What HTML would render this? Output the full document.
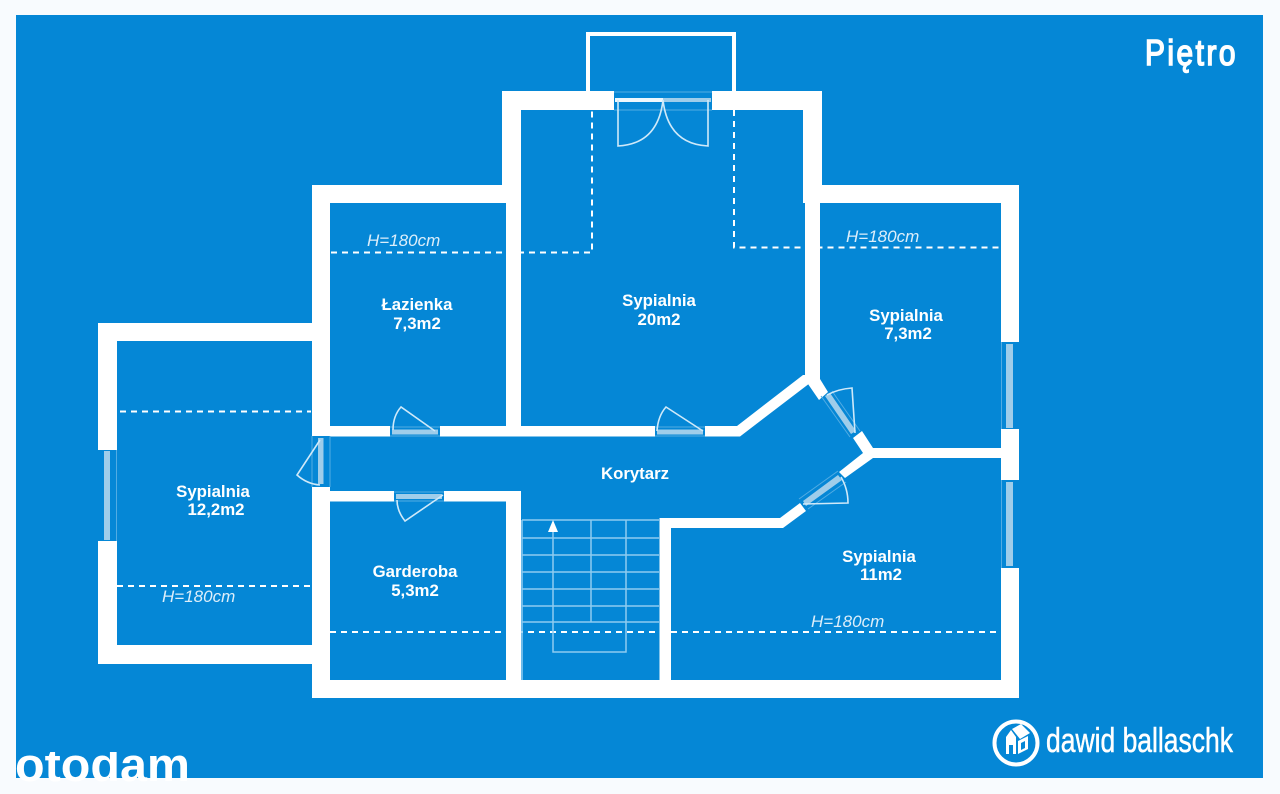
<!DOCTYPE html>
<html lang="pl">
<head>
<meta charset="utf-8">
<title>Piętro</title>
<style>
html,body{margin:0;padding:0;background:#f8fbfe;width:1280px;height:794px;overflow:hidden}
svg{display:block}
text{font-family:"Liberation Sans",sans-serif;fill:#fff}
.l{font-weight:bold;font-size:16.8px;text-anchor:middle}
.h{font-style:italic;font-size:17px;fill:#dceefa}
.d{fill:none;stroke:#fff;stroke-width:2;stroke-dasharray:6 5}
.t{fill:none;stroke:#52ace3;stroke-width:1}
.s{fill:#9fcdea;stroke:none}
.sw{fill:none;stroke:#cfe9f9;stroke-width:1.6}
.st{fill:none;stroke:#8fcbf0;stroke-width:1.5}
</style>
</head>
<body>
<svg width="1280" height="794" viewBox="0 0 1280 794" xmlns="http://www.w3.org/2000/svg">
<defs><clipPath id="c"><rect x="16" y="752" width="176" height="32"/></clipPath></defs>
<rect width="1280" height="794" fill="#f8fbfe"/>
<rect x="16" y="15" width="1247" height="763" fill="#0587d6"/>

<!-- dashed slope lines -->
<path class="d" stroke-dashoffset="4" style="stroke-dashoffset:4" d="M313 252.500H592V110"/>
<path class="d" d="M734 110V247.500H1001"/>
<path class="d" d="M120 411.500H311"/>
<path class="d" d="M117 586H312"/>
<path class="d" d="M330 632H1001"/>

<!-- stairs -->
<path class="st" d="M522 520H659M522 538H659M522 555H659M522 572H659M522 589H659M522 606H659M522 622H659"/>
<path class="st" d="M522 520V680M591 520V622M553 530V652H626V520"/>
<path d="M553 520L558 532H548Z" fill="#fff"/>

<!-- balcony -->
<path d="M588 91V34H734L734 91" fill="none" stroke="#fff" stroke-width="4"/>

<!-- walls -->
<g fill="#fff">
<rect x="502" y="91" width="112" height="19"/>
<rect x="712" y="91" width="110" height="19"/>
<rect x="502" y="91" width="19" height="95"/>
<rect x="803" y="91" width="19" height="112"/>
<rect x="312" y="185" width="209" height="18"/>
<rect x="803" y="185" width="216" height="18"/>
<rect x="506" y="185" width="15" height="251"/>
<rect x="805" y="185" width="15" height="195"/>
<rect x="312" y="185" width="18" height="251"/>
<rect x="1001" y="185" width="18" height="157"/>
<rect x="1001" y="429" width="18" height="51"/>
<rect x="1001" y="568" width="18" height="130"/>
<rect x="312" y="680" width="707" height="18"/>
<rect x="312" y="487" width="18" height="211"/>
<rect x="98" y="323" width="232" height="18"/>
<rect x="98" y="323" width="19" height="127"/>
<rect x="98" y="541" width="19" height="123"/>
<rect x="98" y="645" width="232" height="19"/>
<rect x="330" y="426" width="60" height="10.500"/>
<rect x="440" y="426" width="215" height="10.500"/>
<polygon points="705,426 737,426 803,375 820,375 820,380 810,383 740,436.500 705,436.500"/>
<polygon points="810,372 820,379 828,392 819,400 808,384"/>
<polygon points="853,438 862,431 873,448 1001,448 1001,458 873,458 845,478 839,472 863,453"/>
<polygon points="800,503 806,511 783,528 660,528 660,518 780,518"/>
<rect x="330" y="491" width="64" height="10.500"/>
<rect x="444" y="491" width="77" height="10.500"/>
<rect x="506" y="491" width="15" height="195"/>
<rect x="659.500" y="518" width="11.500" height="170"/>
</g>

<!-- french doors -->
<path class="t" d="M614 92H712M614 110H712"/>
<rect x="615" y="98" width="48" height="4" fill="#eef7fd"/>
<rect x="663" y="98" width="48" height="4" fill="#9fcdea"/>
<path class="sw" d="M618 100V146Q658 144 663 100Q668 144 708 146V100"/>

<!-- doors horizontal -->
<g>
<path class="t" d="M390 427H440M390 436H440"/>
<rect x="392" y="429.500" width="46" height="5" class="s"/>
<path class="sw" d="M435 431L401 407Q393 416 393 430"/>
<path class="t" d="M394 492H444M394 501H444"/>
<rect x="396" y="494" width="46" height="5" class="s"/>
<path class="sw" d="M443 495L405 521Q397 511 397 500"/>
<path class="t" d="M655 427H705M655 436H705"/>
<rect x="657" y="429.500" width="46" height="5" class="s"/>
<path class="sw" d="M703 431L666 407Q658 416 657 431"/>
</g>

<!-- door left -->
<path class="t" d="M312 436V487M330 436V487"/>
<rect x="318" y="438" width="5.500" height="46" class="s"/>
<path class="sw" d="M320 440L297 475Q307 484 320 485"/>

<!-- diagonal doors -->
<polygon class="s" points="825,396 830,393 856,431 851,434"/>
<path class="t" d="M821 396L850 437M832 391L860 431"/>
<path class="sw" d="M855 433L852 388Q838 389 827 395"/>
<polygon class="s" points="803,501 838,475 842,480 806,506"/>
<path class="t" d="M799 499L838 471M808 509L846 482"/>
<path class="sw" d="M803 504L848 503Q848 489 841 477"/>

<!-- windows -->
<path class="t" d="M116.500 450V541"/>
<rect x="104" y="451" width="6" height="89" class="s"/>
<path class="t" d="M1001.500 342V429M1001.500 480V568"/>
<rect x="1006" y="344" width="7" height="84" class="s"/>
<rect x="1006" y="482" width="7" height="84" class="s"/>

<!-- labels -->
<text class="l" x="417" y="310">Łazienka</text>
<text class="l" x="417" y="329">7,3m2</text>
<text class="l" x="659" y="306">Sypialnia</text>
<text class="l" x="659" y="325">20m2</text>
<text class="l" x="906" y="321">Sypialnia</text>
<text class="l" x="908" y="339">7,3m2</text>
<text class="l" x="213" y="497">Sypialnia</text>
<text class="l" x="216" y="515">12,2m2</text>
<text class="l" x="415" y="577">Garderoba</text>
<text class="l" x="415" y="596">5,3m2</text>
<text class="l" x="635" y="479">Korytarz</text>
<text class="l" x="879" y="562">Sypialnia</text>
<text class="l" x="881" y="580">11m2</text>
<text class="h" x="367" y="246">H=180cm</text>
<text class="h" x="846" y="242">H=180cm</text>
<text class="h" x="162" y="602">H=180cm</text>
<text class="h" x="811" y="627">H=180cm</text>

<!-- title -->
<text transform="translate(1145,65) scale(.83,1)" font-size="36" letter-spacing="3" stroke="#fff" stroke-width="1.6">Piętro</text>

<!-- logo -->
<circle cx="1016" cy="743" r="21.500" fill="none" stroke="#fff" stroke-width="4"/>
<path d="M1006 754V737L1011 730L1016 737V754H1013V745H1009V754Z" fill="#fff"/>
<path d="M1012 729L1021 724L1030 733L1020 739Z" fill="#fff"/>
<path d="M1018 741L1028 736V749L1018 754Z" fill="#fff"/>
<path d="M1021 743L1025 741V748L1021 750Z" fill="#0587d6"/>
<text x="1046" y="752" font-size="34" textLength="187" lengthAdjust="spacingAndGlyphs" stroke="#fff" stroke-width="0.5">dawid ballaschk</text>

<!-- otodam -->
<g clip-path="url(#c)">
<text x="15" y="781" font-size="47" font-weight="bold" textLength="175" lengthAdjust="spacingAndGlyphs">otodam</text>
</g>
</svg>
</body>
</html>
